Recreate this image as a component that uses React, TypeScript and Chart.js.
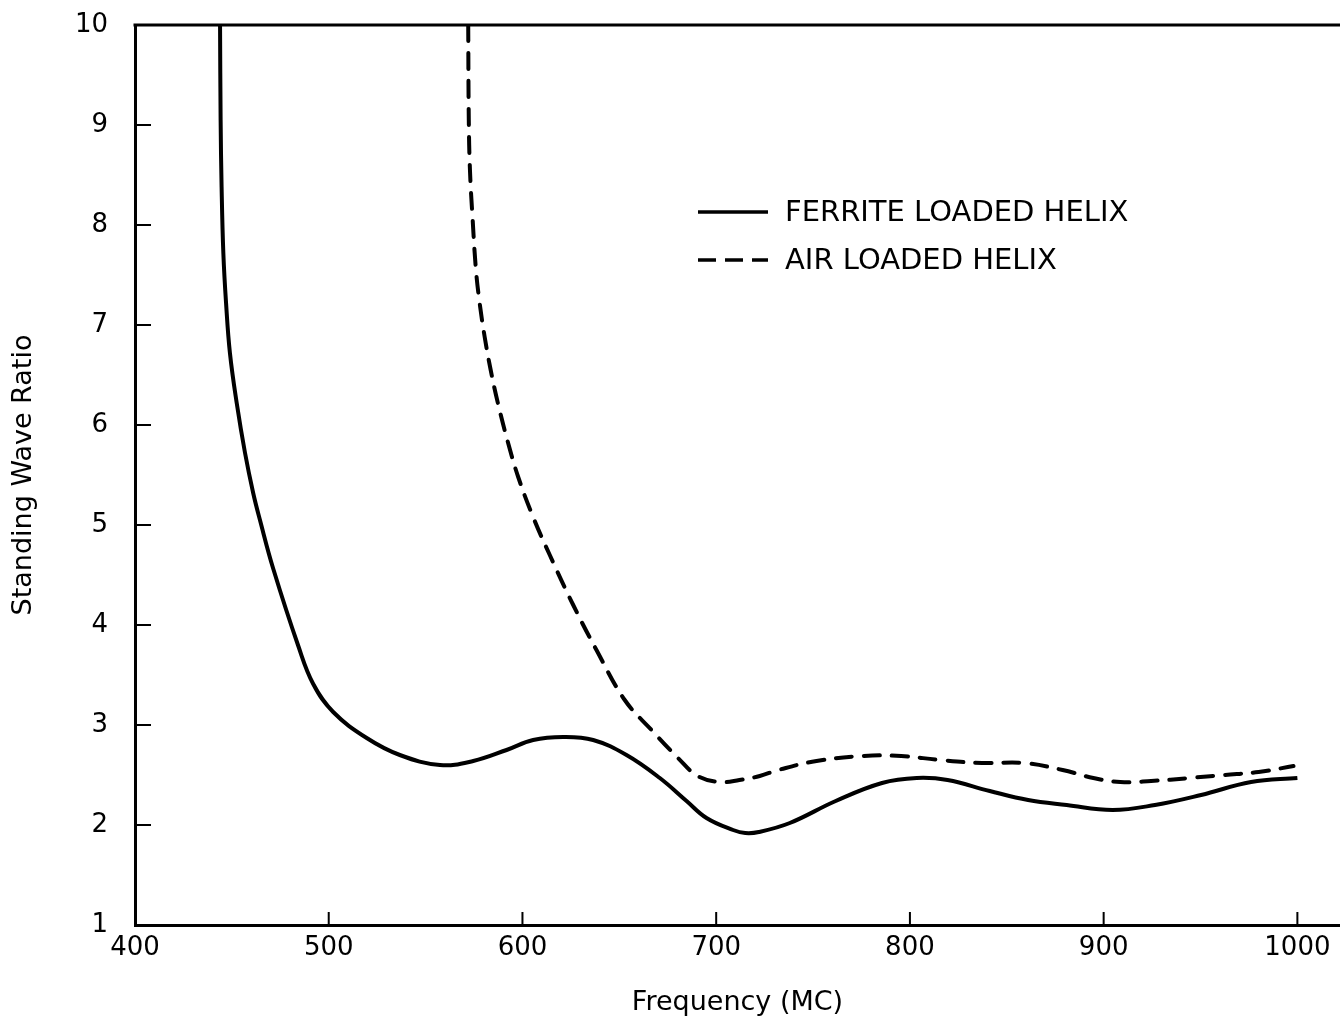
import React, { useEffect, useRef } from "react";
import { Chart, registerables } from "chart.js";

Chart.register(...registerables);

// ---- data ----
const ferriteFreq = [443.9, 444.2, 444.7, 445.6, 447.0, 449.0, 452.5, 456.8, 461.0, 464.5, 471.4, 484.3, 492, 502.3, 519.6, 536.7, 557.4, 574.6, 591.8, 605.5, 621, 636.5, 653.7, 670.9, 684.7, 695, 708.7, 715, 722, 738, 761.7, 785.6, 803.5, 819.4, 841.2, 861, 880.9, 904.6, 926.5, 950.3, 976.1, 1000];
const ferriteSWR = [10, 9.05, 8.38, 7.72, 7.22, 6.72, 6.22, 5.72, 5.32, 5.05, 4.56, 3.79, 3.41, 3.13, 2.87, 2.7, 2.6, 2.64, 2.75, 2.85, 2.88, 2.85, 2.7, 2.47, 2.24, 2.07, 1.95, 1.92, 1.93, 2.02, 2.24, 2.42, 2.47, 2.45, 2.34, 2.25, 2.2, 2.15, 2.2, 2.3, 2.43, 2.47];

const airFreq = [572.0, 572.3, 572.9, 574.3, 576.0, 577.9, 580.5, 583.6, 587.3, 592.6, 597.8, 605.5, 614.1, 626.2, 638.2, 652.8, 666.6, 680.3, 690.5, 702, 712, 722.5, 732, 751.8, 775.6, 795.5, 815.4, 837.2, 859, 878.8, 894.7, 908.6, 924.5, 944.4, 962.2, 980, 998];
const airSWR = [10, 9.05, 8.55, 8.05, 7.55, 7.22, 6.88, 6.55, 6.22, 5.82, 5.48, 5.08, 4.7, 4.2, 3.75, 3.25, 2.95, 2.67, 2.49, 2.43, 2.45, 2.49, 2.55, 2.64, 2.69, 2.69, 2.65, 2.62, 2.62, 2.55, 2.47, 2.43, 2.44, 2.47, 2.5, 2.53, 2.59];

const seriesNames = ["FERRITE LOADED HELIX", "AIR LOADED HELIX"];
const xTickValues = [400, 500, 600, 700, 800, 900, 1000];
const xMin = 400;
const xMax = 1022;
const yMin = 1;
const yMax = 10;
const xTitle = "Frequency (MC)";
const yTitle = "Standing Wave Ratio";

const FONT = "'DejaVu Sans', sans-serif";

const framePlugin = {
  id: "frame",
  afterDraw(chart: any) {
    const { ctx, chartArea: a, scales } = chart;
    ctx.save();
    ctx.strokeStyle = "#000";
    ctx.lineWidth = 3;
    ctx.beginPath();
    ctx.moveTo(a.left - 1.5, a.top);
    ctx.lineTo(a.right, a.top);
    ctx.stroke();
    ctx.lineWidth = 2;
    ctx.beginPath();
    scales.y.ticks.forEach((t: any) => {
      if (t.value <= yMin || t.value >= yMax) return;
      const y = scales.y.getPixelForValue(t.value);
      ctx.moveTo(a.left, y);
      ctx.lineTo(a.left + 16, y);
    });
    scales.x.ticks.forEach((t: any) => {
      if (t.value <= xMin) return;
      const x = scales.x.getPixelForValue(t.value);
      ctx.moveTo(x, a.bottom);
      ctx.lineTo(x, a.bottom - 13);
    });
    ctx.stroke();

    // legend
    const items = chart.data.datasets;
    const lx0 = 698, lx1 = 768, tx = 785;
    const ys = [212, 260];
    ctx.font = `29px ${FONT}`;
    ctx.fillStyle = "#000";
    ctx.textBaseline = "middle";
    items.forEach((ds: any, i: number) => {
      ctx.lineWidth = 3.5;
      ctx.setLineDash(i === 1 ? [18, 9] : []);
      ctx.beginPath();
      ctx.moveTo(lx0, ys[i]);
      ctx.lineTo(lx1, ys[i]);
      ctx.stroke();
      ctx.setLineDash([]);
      ctx.fillText(ds.label, tx, ys[i] + 1);
    });
    ctx.restore();
  },
};

export default function App() {
  const ref = useRef<HTMLCanvasElement | null>(null);
  useEffect(() => {
    if (!ref.current) return;
    Chart.defaults.color = "#000";
    Chart.defaults.font.family = FONT;
    const chart = new Chart(ref.current, {
      type: "line",
      data: {
        datasets: [
          {
            label: seriesNames[0],
            data: ferriteFreq.map((x, i) => ({ x, y: ferriteSWR[i] })),
            borderColor: "#000",
            borderWidth: 4,
            pointRadius: 0,
            tension: 0.4,
            fill: false,
          },
          {
            label: seriesNames[1],
            data: airFreq.map((x, i) => ({ x, y: airSWR[i] })),
            borderColor: "#000",
            borderWidth: 4,
            borderDash: [16, 12],
            borderCapStyle: "round",
            pointRadius: 0,
            tension: 0.4,
            fill: false,
          },
        ],
      },
      options: {
        animation: false,
        responsive: false,
        layout: { padding: { top: 25, right: 0, left: 0, bottom: 0 } },
        plugins: { legend: { display: false }, tooltip: { enabled: false } },
        scales: {
          x: {
            type: "linear",
            min: xMin,
            max: xMax,
            afterBuildTicks: (scale: any) => {
              scale.ticks = xTickValues.map((v) => ({ value: v }));
            },
            afterFit: (scale: any) => {
              scale.height = 98;
              scale.paddingLeft = 0;
              scale.paddingRight = 0;
            },
            grid: { display: false, drawTicks: false },
            border: { display: true, color: "#000", width: 3 },
            ticks: {
              font: { size: 26, family: FONT },
              padding: 8,
              color: "#000",
              maxRotation: 0,
              callback: (v: any) => String(v),
            },
            title: {
              display: true,
              text: xTitle,
              font: { size: 27, family: FONT },
              color: "#000",
              padding: { top: 0, bottom: 4 },
            },
          },
          y: {
            type: "linear",
            min: yMin,
            max: yMax,
            ticks: {
              stepSize: 1,
              font: { size: 26, family: FONT },
              padding: 27,
              color: "#000",
              callback: (v: any) => String(v),
            },
            afterFit: (scale: any) => {
              scale.width = 135;
              scale.paddingTop = 0;
              scale.paddingBottom = 0;
            },
            grid: { display: false, drawTicks: false },
            border: { display: true, color: "#000", width: 3 },
            title: {
              display: true,
              text: yTitle,
              font: { size: 27, family: FONT },
              color: "#000",
              padding: { top: 8, bottom: 0 },
            },
          },
        },
      },
      plugins: [framePlugin],
    } as any);
    return () => chart.destroy();
  }, []);
  return (
    <div style={{ position: "absolute", left: 0, top: 0, width: 1340, height: 1023, background: "#fff" }}>
      <canvas ref={ref} width={1340} height={1023} style={{ display: "block" }} />
    </div>
  );
}
